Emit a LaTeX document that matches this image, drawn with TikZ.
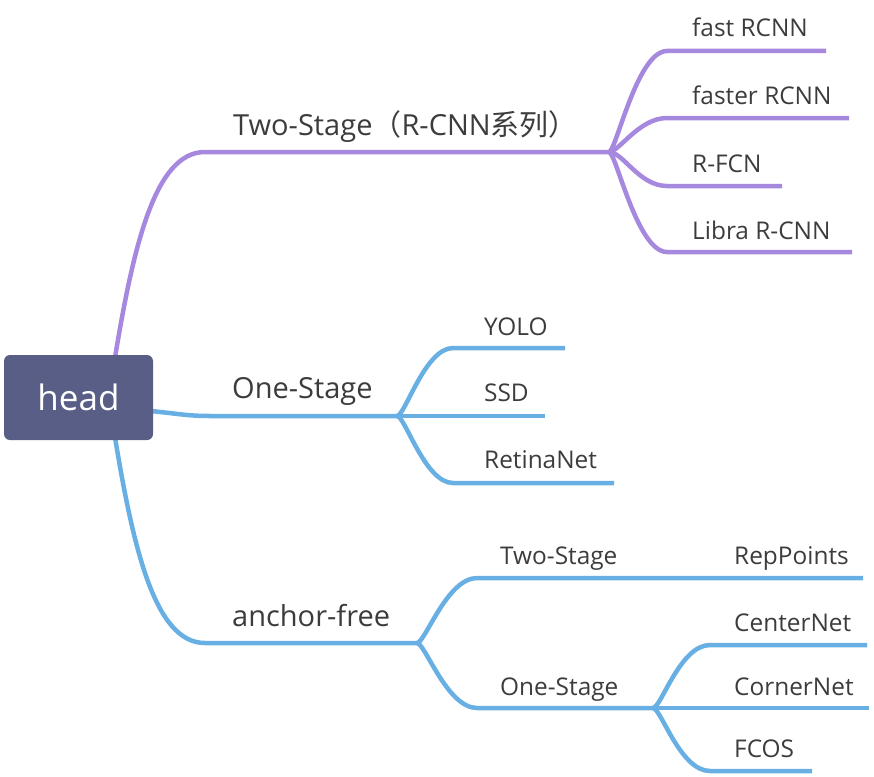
\documentclass[tikz,border=0pt]{standalone}
\usepackage{fontspec}
\setmainfont{Open Sans}
\newfontfamily\cjk{Noto Sans CJK SC}
\definecolor{purp}{RGB}{166,136,223}
\definecolor{blu}{RGB}{104,176,228}
\definecolor{rootfill}{RGB}{89,94,134}
\definecolor{txt}{RGB}{60,60,60}
\tikzset{
  pline/.style={draw=purp,line width=4.5pt},
  bline/.style={draw=blu,line width=4.5pt},
  mainlbl/.style={anchor=base west,inner sep=0pt,text=txt,font=\fontsize{29}{33}\selectfont},
  leaflbl/.style={anchor=base west,inner sep=0pt,text=txt,font=\fontsize{24.4}{28}\selectfont},
  rootbox/.style={fill=rootfill,rounded corners=6pt,minimum width=149pt,minimum height=85pt,inner sep=0pt,text=white,font=\fontsize{35}{39}\selectfont}
}
\begin{document}
\begin{tikzpicture}[x=1pt,y=-1pt]
\useasboundingbox (0,0) rectangle (874,776);
% coordinates
\coordinate (r1s) at (113,370);
\coordinate (r2s) at (140,410);
\coordinate (r3s) at (113,425);
\coordinate (b1a) at (205,152);
\coordinate (f1) at (609,152);
\coordinate (b2a) at (210,416);
\coordinate (f2) at (397,416);
\coordinate (b3a) at (205,643);
\coordinate (f3) at (417,643);
% level 2 top
\coordinate (l11a) at (667,51);  \coordinate (l11b) at (826,51);
\coordinate (l12a) at (667,118); \coordinate (l12b) at (849,118);
\coordinate (l13a) at (667,186); \coordinate (l13b) at (782,186);
\coordinate (l14a) at (667,252); \coordinate (l14b) at (852,252);
% level 2 middle
\coordinate (l21a) at (453,348); \coordinate (l21b) at (565,348);
\coordinate (l22b) at (545,416);
\coordinate (l23a) at (453,483); \coordinate (l23b) at (614,483);
% level 2 bottom
\coordinate (l31a) at (477,578); \coordinate (l31b) at (863,578);
\coordinate (l32a) at (477,708); \coordinate (f4) at (653,708);
\coordinate (l41a) at (710,645); \coordinate (l41b) at (867,645);
\coordinate (l42b) at (869,708);
\coordinate (l43a) at (710,771); \coordinate (l43b) at (812,771);

% main branches
\draw[pline] (r1s) .. controls (133,245) and (155,152) .. (b1a) -- (f1);
\draw[bline] (r2s) .. controls (175,413) and (185,416) .. (b2a) -- (f2);
\draw[bline] (r3s) .. controls (133,550) and (155,643) .. (b3a) -- (f3);

% top children
\draw[pline] (f1) .. controls +(7,0) and +(-30,0) .. (l11a) -- (l11b);
\draw[pline] (f1) .. controls +(10,0) and +(-28,0) .. (l12a) -- (l12b);
\draw[pline] (f1) .. controls +(14,0) and +(-28,0) .. (l13a) -- (l13b);
\draw[pline] (f1) .. controls +(7,0) and +(-30,0) .. (l14a) -- (l14b);

% middle children
\draw[bline] (f2) .. controls +(8,0) and +(-28,0) .. (l21a) -- (l21b);
\draw[bline] (f2) -- (l22b);
\draw[bline] (f2) .. controls +(8,0) and +(-28,0) .. (l23a) -- (l23b);

% bottom children
\draw[bline] (f3) .. controls +(8,0) and +(-30,0) .. (l31a) -- (l31b);
\draw[bline] (f3) .. controls +(8,0) and +(-30,0) .. (l32a) -- (f4);
\draw[bline] (f4) .. controls +(8,0) and +(-30,0) .. (l41a) -- (l41b);
\draw[bline] (f4) -- (l42b);
\draw[bline] (f4) .. controls +(8,0) and +(-30,0) .. (l43a) -- (l43b);

% root
\node[rootbox] (root) at (78.5,397.5) {head};

% labels
\node[mainlbl] (t1) at (233,135) {Two-Stage{\cjk（}R-CNN{\cjk 系列）}};
\node[mainlbl] (t2) at (232,398) {One-Stage};
\node[mainlbl] (t3) at (232,626) {anchor-free};

\node[leaflbl] (n11) at (692,37) {fast RCNN};
\node[leaflbl] (n12) at (692,104) {faster RCNN};
\node[leaflbl] (n13) at (692,172) {R-FCN};
\node[leaflbl] (n14) at (692,239) {Libra R-CNN};

\node[leaflbl] (n21) at (484,335) {YOLO};
\node[leaflbl] (n22) at (484,401) {SSD};
\node[leaflbl] (n23) at (484,468) {RetinaNet};

\node[leaflbl] (n31) at (500,564) {Two-Stage};
\node[leaflbl] (n32) at (500,695) {One-Stage};
\node[leaflbl] (n41) at (734,564) {RepPoints};
\node[leaflbl] (n42) at (734,631) {CenterNet};
\node[leaflbl] (n43) at (734,695) {CornerNet};
\node[leaflbl] (n44) at (734,757) {FCOS};
\end{tikzpicture}
\end{document}
